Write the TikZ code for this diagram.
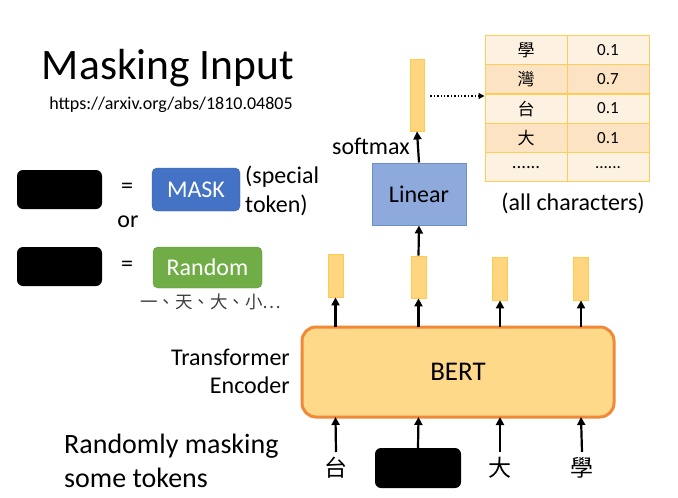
\documentclass[tikz,border=0pt]{standalone}
\usepackage{fontspec}
\setmainfont{Carlito}
\newfontfamily\cjk{Noto Sans CJK TC}
\usetikzlibrary{arrows.meta}
\definecolor{barfill}{HTML}{FFD67F}
\definecolor{barline}{HTML}{FFCB4C}
\definecolor{bertfill}{HTML}{FFD98A}
\definecolor{bertline}{HTML}{F08A38}
\definecolor{maskblue}{HTML}{4472C4}
\definecolor{randgreen}{HTML}{70AD47}
\definecolor{linfill}{HTML}{8EA9DB}
\definecolor{linline}{HTML}{6C8EC9}
\definecolor{tablight}{HTML}{FDF1E1}
\definecolor{tabdark}{HTML}{FBE3C4}
\definecolor{tabline}{HTML}{FFCC55}
\tikzset{
  bar/.style={draw=barline, fill=barfill, line width=0.8pt, minimum width=15pt, inner sep=0pt},
  blackbox/.style={fill=black, rounded corners=6pt, minimum width=85pt, minimum height=39pt, inner sep=0pt},
  arr/.style={-{Triangle[length=8pt,width=8pt]}, line width=2.2pt},
  lbl/.style={font=\fontsize{24}{28}\selectfont, inner sep=0pt},
  cell/.style={draw=tabline, line width=1pt, minimum width=82pt, minimum height=29pt, inner sep=0pt, font=\fontsize{17}{20}\selectfont},
  tok/.style={font=\cjk\fontsize{23}{25}\selectfont, inner sep=0pt}
}
\begin{document}
\begin{tikzpicture}[x=1pt,y=-1pt]
\useasboundingbox[fill=white] (0,0) rectangle (678,498);
% title
\node[inner sep=0pt, font=\fontsize{43.5}{48}\selectfont] (title) at (168,68) {Masking Input};
\node[inner sep=0pt, font=\fontsize{18}{20}\selectfont] (url) at (171,105) {https://arxiv.org/abs/1810.04805};
% legend
\node[blackbox] (b1) at (59.5,189.5) {};
\node[blackbox] (b2) at (59.5,266.5) {};
\node[lbl] (eq1) at (127,188) {=};
\node[lbl] (eq2) at (127,266) {=};
\node[lbl] (or) at (128,222) {or};
\node[fill=maskblue, draw=maskblue!85!black, rounded corners=5pt, minimum width=88pt, minimum height=43pt, inner sep=0pt, text=white, font=\fontsize{24}{28}\selectfont] (mask) at (196,189.5) {MASK};
\node[lbl, anchor=west] (sp1) at (245,177) {(special};
\node[lbl, anchor=west] (sp2) at (245,205) {token)};
\node[fill=randgreen, draw=randgreen!85!black, rounded corners=5pt, minimum width=109pt, minimum height=41pt, inner sep=0pt, text=white, font=\fontsize{24}{28}\selectfont] (rand) at (207.5,267.5) {Random};
\node[inner sep=0pt, font=\cjk\fontsize{17.5}{20}\selectfont, text=black!75] (rlist) at (211,302) {一、天、大、小…};
% BERT
\node[draw=bertline, fill=bertfill, line width=3pt, rounded corners=14pt, minimum width=312pt, minimum height=90pt, inner sep=0pt, font=\fontsize{27}{30}\selectfont] (bert) at (458,372) {BERT};
\node[lbl, anchor=east] (tr1) at (290,357) {Transformer};
\node[lbl, anchor=east] (tr2) at (290,385) {Encoder};
% output bars
\node[bar, minimum height=43pt] (o1) at (335.5,275.5) {};
\node[bar, minimum height=42pt] (o2) at (418.5,277) {};
\node[bar, minimum height=43pt] (o3) at (500,278.5) {};
\node[bar, minimum height=43pt] (o4) at (581,278.5) {};
\foreach \i/\x in {1/335.5,2/418.5,3/500,4/581}{
  \coordinate (bt\i) at (\x,327);
  \coordinate (bb\i) at (\x,417);
}
\draw[arr] (bt1) -- (o1.south);
\draw[arr] (bt2) -- (o2.south);
\draw[arr] (bt3) -- (o3.south);
\draw[arr] (bt4) -- (o4.south);
% inputs
\node[tok] (t1) at (336,468) {台};
\node[blackbox, minimum width=86pt, minimum height=40pt] (t2) at (418,468) {};
\node[tok] (t3) at (500,468) {大};
\node[tok] (t4) at (582,468) {學};
\draw[arr] (t1.north |- 0,452) -- (bb1);
\draw[arr] (t2.north) -- (bb2);
\draw[arr] (t3.north |- 0,452) -- (bb3);
\draw[arr] (t4.north |- 0,452) -- (bb4);
\node[inner sep=0pt, anchor=west, font=\fontsize{28}{32}\selectfont] (rm1) at (64,446) {Randomly masking};
\node[inner sep=0pt, anchor=west, font=\fontsize{28}{32}\selectfont] (rm2) at (64,478) {some tokens};
% Linear
\node[draw=linline, fill=linfill, line width=1pt, minimum width=94pt, minimum height=62pt, inner sep=0pt, font=\fontsize{24}{28}\selectfont] (lin) at (419,194) {Linear};
\draw[arr] (o2.north) -- (lin.south);
\node[bar, minimum width=14pt, minimum height=72pt] (top) at (417,95) {};
\draw[arr] (lin.north) -- (top.south);
\node[lbl, anchor=east] (smx) at (410,146) {softmax};
% table
\foreach \r/\a/\b/\c in {1/學/0.1/tablight,2/灣/0.7/tabdark,3/台/0.1/tablight,4/大/0.1/tabdark,5/{......}/{......}/tablight}{
  \node[cell, fill=\c, font=\cjk\fontsize{17}{20}\selectfont] (a\r) at (526,{35+29.4*(\r-0.5)}) {\a};
  \node[cell, fill=\c] (v\r) at (608,{35+29.4*(\r-0.5)}) {\b};
}
\draw[-{Triangle[length=6pt,width=6pt]}, line width=1.4pt, dotted] (top.east |- 0,96) ++(6,0) coordinate (ds) -- (a2.west |- 0,96);
\node[lbl] (allc) at (573,203) {(all characters)};
\end{tikzpicture}
\end{document}
